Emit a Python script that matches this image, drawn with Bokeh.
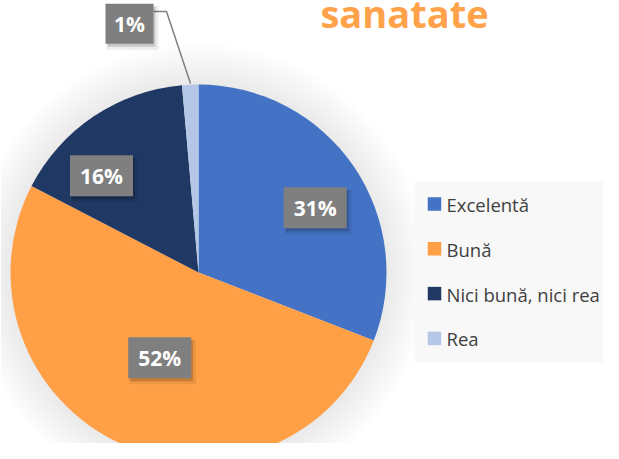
import math
from bokeh.plotting import figure
from bokeh.models import Range1d
from bokeh.core.properties import value
from bokeh.embed import file_html
from bokeh.resources import INLINE

# ---- data ----
title_text = "sanatate"
categories = ["Excelentă", "Bună", "Nici bună, nici rea", "Rea"]
shares = [30.9, 51.7, 16.0, 1.4]
colors = ["#4472C4", "#FFA046", "#203864", "#B4C7E7"]

# ---- layout (canvas pixels measured from top-left) ----
W, H = 603, 443
CX, CY, R = 198, 272, 188
label_pos = [(314.7, 207.3), (159.2, 357.2), (101.0, 175.3), (129.0, 23.3)]
label_box = [(63, 41), (63, 41), (63, 41), (48, 40)]
leader = ([153, 166, 190], [11, 11, 83])
legend_left, legend_top, legend_bottom = 414, 181, 362
legend_sq_x, legend_text_x = 434, 446
legend_center0, legend_step = 203.5, 44.8


def Y(y):
    return H - y


p = figure(width=W, height=H, x_range=Range1d(0, W), y_range=Range1d(0, H),
           x_axis_type=None, y_axis_type=None, toolbar_location=None,
           output_backend="svg", min_border=0)
p.outline_line_color = None
p.background_fill_color = "white"
p.border_fill_color = "white"

# soft shadow around the pie
for k in range(1, 22):
    p.circle(x=CX, y=Y(CY), radius=R + 2 * k, fill_color="black", fill_alpha=0.005,
             line_color=None)

total = sum(shares)
cum = 0.0
for cat, v, c in zip(categories, shares, colors):
    s = cum / total
    e = (cum + v) / total
    cum += v
    p.wedge(x=CX, y=Y(CY), radius=R,
            start_angle=math.pi / 2 - 2 * math.pi * e,
            end_angle=math.pi / 2 - 2 * math.pi * s,
            fill_color=c, line_color=None)

# leader line for the smallest slice
p.line(x=leader[0], y=[Y(v) for v in leader[1]], line_color="#808080", line_width=1.5)

# data labels with shadowed boxes
labels = [f"{round(v)}%" for v in shares]
for (lx, ly), (bw, bh), t in zip(label_pos, label_box, labels):
    y = Y(ly)
    p.rect(x=lx + 3, y=y - 4, width=bw + 4, height=bh + 4, fill_color="black",
           fill_alpha=0.07, line_color=None)
    p.rect(x=lx + 2, y=y - 3, width=bw, height=bh, fill_color="black",
           fill_alpha=0.16, line_color=None)
    p.rect(x=lx, y=y, width=bw, height=bh, fill_color="#7F7F7F", line_color=None)
    p.text(x=[lx], y=[y], text=[t], text_color="white", text_font=value("Open Sans"),
           text_font_style="bold", text_font_size="21px", text_align="center",
           text_baseline="middle")

# title (clipped at top as in reference)
p.text(x=[404], y=[Y(12)], text=[title_text], text_color="#FFA24A",
       text_font=value("Open Sans"), text_font_style="bold", text_font_size="38px",
       text_align="center", text_baseline="middle")

# legend
p.quad(left=legend_left, right=W, top=Y(legend_top), bottom=Y(legend_bottom),
       fill_color="#F8F8F8", line_color=None)
for i, (cat, c) in enumerate(zip(categories, colors)):
    cy = legend_center0 + i * legend_step
    p.rect(x=legend_sq_x, y=Y(cy), width=13.5, height=13.5, fill_color=c,
           line_color=None)
    p.text(x=[legend_text_x], y=[Y(cy + 0.5)], text=[cat], text_color="#404040",
           text_font=value("Open Sans"), text_font_size="18.5px", text_align="left",
           text_baseline="middle")

open("out.html", "w").write(file_html(p, INLINE))
